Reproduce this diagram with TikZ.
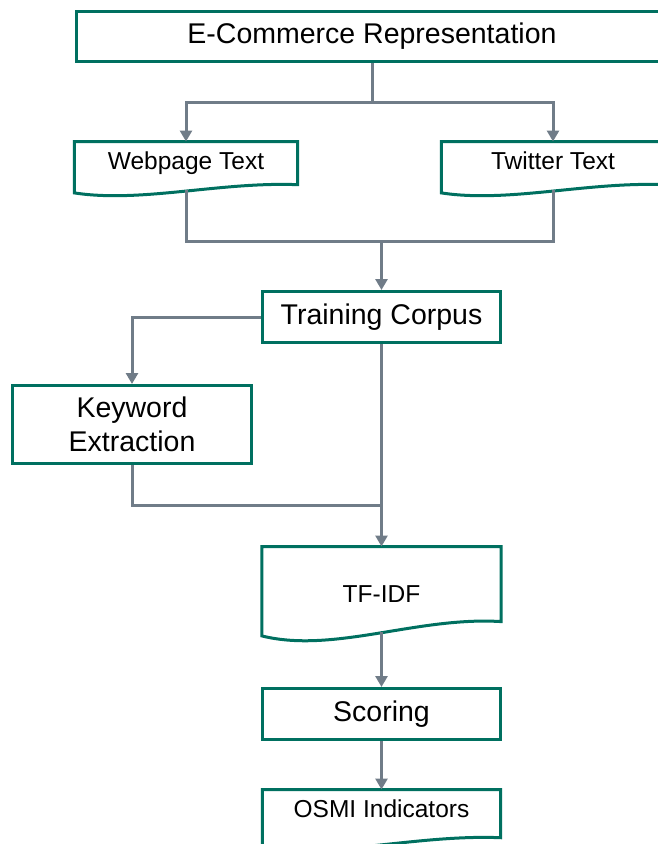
\documentclass[tikz,border=0pt]{standalone}
\usepackage{fontspec}
\setmainfont{Liberation Sans}
\usetikzlibrary{arrows.meta,calc}
\definecolor{boxgreen}{RGB}{0,112,96}
\definecolor{linegray}{RGB}{112,124,136}

\begin{document}
\begin{tikzpicture}[x=1pt,y=-1pt,
  box/.style={draw=boxgreen,line width=3pt,minimum width=238pt,minimum height=51pt,
    inner sep=0pt,align=center,font=\fontsize{28.5}{34.5}\selectfont},
  doc/.style={inner sep=0pt,minimum width=223pt,anchor=north,font=\fontsize{24.5}{29}\selectfont},
  docline/.style={draw=boxgreen,line width=3pt},
  conn/.style={linegray,line width=3pt},
  arr/.style={conn,-{Triangle[length=11pt,width=12pt]}}]
  \useasboundingbox (0,0) rectangle (658,844);

  % Sources
  \node[box,minimum width=592pt,minimum height=50pt] (ecom) at (372,36.5) {E-Commerce Representation};
  \node[doc,text height=28pt,text depth=23pt] (web) at (186,141.5) {Webpage Text};
  \node[doc,text height=28pt,text depth=23pt] (tw) at (553,141.5) {Twitter Text};

  % Processing steps
  \node[box] (corpus) at (381.5,317) {Training Corpus};
  \node[box,minimum width=239pt,minimum height=78pt] (kw) at (132,424.5) {Keyword\\Extraction};
  \node[doc,minimum width=239pt,text height=56pt,text depth=33pt] (tfidf) at (381.5,546.5) {TF-IDF};
  \node[box] (score) at (381.5,714) {Scoring};
  \node[doc,minimum width=238pt,text height=28pt,text depth=29pt] (osmi) at (381.5,789.5) {OSMI Indicators};

  % Document outlines (wavy bottom)
  \foreach \doc in {web,tw,tfidf,osmi}
    \draw[docline] let \p1=(\doc.north west), \p2=(\doc.south east) in
      (\p1) -- (\x2,\y1) -- (\x2,{\y2+0.16*(\y1-\y2)})
      .. controls ({\x1+0.65*(\x2-\x1)},{\y2+0.22*(\y1-\y2)}) and ({\x1+0.3*(\x2-\x1)},{\y2-0.2*(\y1-\y2)}) .. (\x1,\y2) -- cycle;

  % Connectors
  \coordinate (fork) at (372,102);
  \coordinate (join) at (381.5,241);
  \coordinate (merge) at (381.5,505);
  \draw[conn] (ecom.south) -- (fork);
  \draw[arr] (fork) -| (web.north);
  \draw[arr] (fork) -| (tw.north);
  \draw[conn] ([yshift=3pt]web.south) |- (join);
  \draw[conn] ([yshift=3pt]tw.south) |- (join);
  \draw[arr] (join) -- (corpus.north);
  \draw[arr] (corpus.west) -| (kw.north);
  \draw[conn] (kw.south) |- (merge);
  \draw[arr] (corpus.south) -- (tfidf.north);
  \draw[arr] ([yshift=4pt]tfidf.south) -- (score.north);
  \draw[arr] (score.south) -- (osmi.north);
\end{tikzpicture}
\end{document}
